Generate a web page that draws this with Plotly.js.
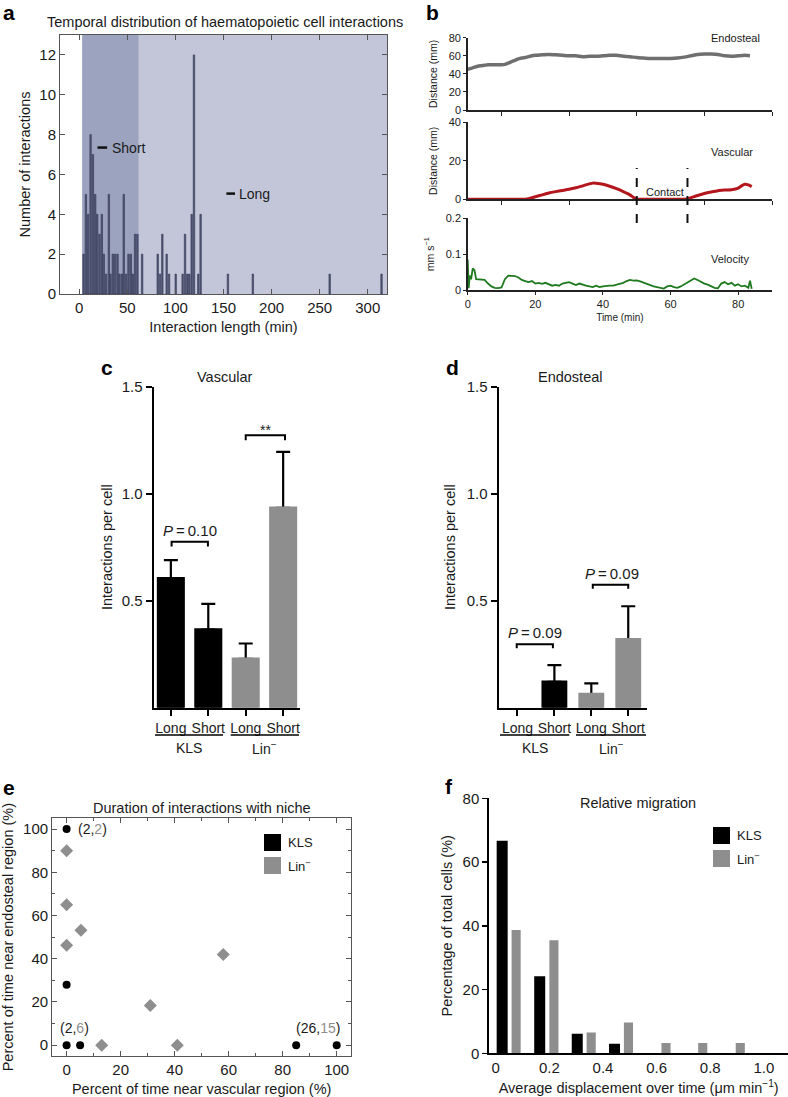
<!DOCTYPE html>
<html><head><meta charset="utf-8">
<script src="https://cdn.plot.ly/plotly-3.0.1.min.js"></script>
<style>html,body{margin:0;padding:0;background:#fff}#chart{width:788px;height:1097px}</style>
</head><body><div id="chart"></div>
<script>
// ---------------- DATA ----------------
// a: histogram of interaction lengths
const aLength = [4.5, 6.9, 9.3, 11.8, 14.2, 16.6, 18.7, 21.1, 23.5, 25.6,
                 28, 30.8, 32.5, 34.9, 37.3, 39.8, 41.8, 44.3, 46.3, 48.8,
                 51.2, 53.6, 55.7, 58.1, 60.5, 65.4, 81.6, 84, 86.4, 90.9,
                 93.4, 100.3, 107.5, 110, 112.4, 114.5, 116.9, 119.3, 123.8, 126.2,
                 154.6, 180.5, 260.4, 314.3];
const aCount  = [2, 5, 4, 8, 7, 5, 4, 3, 4, 2,
                 1, 5, 1, 2, 2, 2, 1, 1, 5, 1,
                 2, 2, 1, 3, 3, 2, 2, 1, 3, 2,
                 1, 1, 1, 3, 1, 1, 4, 12, 1, 4,
                 1, 1, 1, 1];
const shortWindow = [3, 62];
const longWindow = [62, 320];

// b: time courses
const bTimeEndo = [0,1,2,3,4,5,6,7,8,9,10,11,12,13,14,15,16,17,18,19,20,22,24,26,28,30,32,34,36,38,40,42,44,46,48,50,52,54,56,58,60,62,64,66,68,70,72,74,76,78,80,82,83.5];
const bEndo     = [45,46,47.5,48.5,49,49.5,50,50,50,50,50,50.5,52,53.5,55,56.5,57.5,58,59,60,60.5,61,61.5,61,60.5,60,60,59,59.5,59.5,60,60.5,60.5,59.5,59,58,57.5,57,57,57,57,57.5,58.5,60,61.5,62,62,61.5,60,59.5,60,60.5,60];
const bTimeVasc = [0,5,10,15,17,18,19,20,22,24,26,28,30,32,34,36,37,38,40,42,44,46,48,49,50,55,60,65,66,67,68,70,72,74,76,78,80,81,82,83,84];
const bVasc     = [0,0,0,0,0,0.3,0.8,1.3,2.3,3.3,4,4.6,5.2,6,7,8,8.4,8.3,7.8,6.8,5.5,4,2.3,1,0.2,0,0,0.2,0.8,1.4,2,3,3.8,4.5,4.8,5,5.8,7,7.8,7.5,6.6];
const bTimeVel  = [0,0.3,0.6,1,1.5,2,2.5,3,
                   4,5,6,7,8,9,10,11,12,13,
                   14,15,16,17,18,19,20,21,22,23,
                   24,25,26,27,28,29,30,31,32,33,
                   34,35,36,37,38,39,40,41,42,43,
                   44,45,46,47,48,49,50,51,52,53,
                   54,55,56,57,58,59,60,61,62,63,
                   64,65,66,67,68,69,70,71,72,73,
                   74,75,76,77,78,79,80,81,82,83,
                   83.5,84];
const bVel      = [0.085,0.005,0.04,0.03,0.06,0.055,0.03,0.03,
                   0.028,0.028,0.018,0.01,0.006,0.005,0.007,0.03,0.04,0.04,
                   0.039,0.035,0.028,0.025,0.022,0.025,0.018,0.02,0.017,0.02,
                   0.015,0.012,0.014,0.012,0.018,0.02,0.022,0.018,0.014,0.018,
                   0.014,0.012,0.01,0.008,0.012,0.008,0.01,0.012,0.012,0.012,
                   0.014,0.018,0.02,0.025,0.028,0.026,0.027,0.024,0.02,0.018,
                   0.012,0.01,0.008,0.005,0.004,0.01,0.012,0.008,0.006,0.01,
                   0.016,0.02,0.026,0.032,0.028,0.022,0.018,0.015,0.01,0.006,
                   0.005,0.018,0.022,0.016,0.02,0.012,0.016,0.01,0.012,0.006,
                   0.026,0.003];
const contactTimes = [50, 65];

// c, d: interactions per cell
const barLabels = ['Long', 'Short', 'Long', 'Short'];
const groupNames = ['KLS', 'Lin<sup>−</sup>'];
const cKLS = [0.605, 0.365], cKLSErr = [0.085, 0.12];
const cLin = [0.228, 0.934], cLinErr = [0.072, 0.261];
const dKLS = [0, 0.121],     dKLSErr = [NaN, 0.078];
const dLin = [0.064, 0.32],  dLinErr = [0.05, 0.154];

// e: duration with niche
const eKLSVasc = [0, 0, 0, 5, 85, 100];
const eKLSEndo = [100, 28, 0, 0, 0, 0];
const eLinVasc = [0, 0, 0, 5.3, 58, 31, 13, 41];
const eLinEndo = [90, 65, 46.3, 53.2, 42, 18.4, 0, 0];

// f: relative migration
const fKLSX = [0.024, 0.164, 0.304, 0.443];
const fKLS  = [66.7, 24.2, 6.1, 3.0];
const fLinX = [0.076, 0.217, 0.356, 0.495, 0.635, 0.772, 0.912];
const fLin  = [38.7, 35.5, 6.5, 9.7, 3.2, 3.2, 3.2];

// ---------------- STYLE / LAYOUT ----------------
const W = 788, H = 1097;
const X = p => p / W, Y = p => 1 - p / H;
const FONT = 'Liberation Sans, Arial, Helvetica, sans-serif';
const KLS_C = '#000000', LIN_C = '#8e8e8e';
const TXT = '#1a1a1a';

// error bars carried by a transparent copy of the bars, drawn underneath the visible bars
function errTrace(xs, ys, errs, xa, ya, w) {
  return {type:'bar', x:xs, y:ys, xaxis:xa, yaxis:ya, width:w, marker:{color:'rgba(0,0,0,0)'},
    error_y:{type:'data', symmetric:false, array:errs, arrayminus:errs.map(e => isNaN(e) ? NaN : 0),
             color:'#000', thickness:2.2, width:7}};
}
function barTrace(xs, ys, xa, ya, w, color) {
  return {type:'bar', x:xs, y:ys, xaxis:xa, yaxis:ya, width:w,
    marker:{color:color, line:{color:color, width:ys.map(v => v > 0 ? 2.6 : 0)}}};
}

const traces = [
  // a
  {type:'bar', x:aLength, y:aCount, xaxis:'x', yaxis:'y', width:1.5,
   marker:{color:'#565c78', line:{color:'#2e3350', width:0.6}}},
  // b
  {type:'scatter', mode:'lines', x:bTimeEndo, y:bEndo, xaxis:'x2', yaxis:'y2',
   line:{color:'#6f6f6f', width:3.5, shape:'spline', smoothing:0.6}},
  {type:'scatter', mode:'lines', x:bTimeVasc, y:bVasc, xaxis:'x3', yaxis:'y3',
   line:{color:'#b3161d', width:3, shape:'spline', smoothing:0.6}},
  {type:'scatter', mode:'lines', x:bTimeVel, y:bVel, xaxis:'x4', yaxis:'y4',
   line:{color:'#1f7a1f', width:1.8}},
  // c
  errTrace([0,1], cKLS, cKLSErr, 'x5', 'y5', 0.68),
  errTrace([2,3], cLin, cLinErr, 'x5', 'y5', 0.68),
  barTrace([0,1], cKLS, 'x5', 'y5', 0.68, KLS_C),
  barTrace([2,3], cLin, 'x5', 'y5', 0.68, LIN_C),
  // d
  errTrace([0,1], dKLS, dKLSErr, 'x6', 'y6', 0.63),
  errTrace([2,3], dLin, dLinErr, 'x6', 'y6', 0.63),
  barTrace([0,1], dKLS, 'x6', 'y6', 0.63, KLS_C),
  barTrace([2,3], dLin, 'x6', 'y6', 0.63, LIN_C),
  // e
  {type:'scatter', mode:'markers', x:eLinVasc, y:eLinEndo, xaxis:'x7', yaxis:'y7',
   marker:{symbol:'diamond', size:10, color:LIN_C}},
  {type:'scatter', mode:'markers', x:eKLSVasc, y:eKLSEndo, xaxis:'x7', yaxis:'y7',
   marker:{symbol:'circle', size:8, color:KLS_C}},
  // f
  {type:'bar', x:fKLSX, y:fKLS, xaxis:'x8', yaxis:'y8', width:0.041, marker:{color:KLS_C}},
  {type:'bar', x:fLinX, y:fLin, xaxis:'x8', yaxis:'y8', width:0.034, marker:{color:LIN_C}}
];

const noGrid = {showgrid:false, zeroline:false, showline:true};

const layout = {
  width:W, height:H, margin:{l:0, r:0, t:0, b:0},
  paper_bgcolor:'#ffffff', plot_bgcolor:'#ffffff',
  showlegend:false, barmode:'overlay',
  font:{family:FONT, color:TXT, size:14},
  // a
  xaxis:Object.assign({}, noGrid, {domain:[X(60), X(387)], anchor:'y', range:[-20, 320],
    tickvals:[0,50,100,150,200,250,300], ticks:'inside', ticklen:5, mirror:'ticks',
    linecolor:'#555', linewidth:1, tickcolor:'#555', tickfont:{size:15},
    title:{text:'Interaction length (min)', font:{size:14.5}, standoff:6}}),
  yaxis:Object.assign({}, noGrid, {domain:[Y(294), Y(35)], anchor:'x', range:[0, 13],
    tickvals:[0,2,4,6,8,10,12], ticks:'inside', ticklen:5, mirror:'ticks',
    linecolor:'#555', linewidth:1, tickcolor:'#555', tickfont:{size:15},
    title:{text:'Number of interactions', font:{size:14.5}, standoff:5}}),
  // b top
  xaxis2:Object.assign({}, noGrid, {domain:[X(467.7), X(772)], anchor:'y2', range:[0, 90],
    tickvals:[10,30,50,70,90], showticklabels:false, ticks:'outside', ticklen:4,
    linecolor:'#222', linewidth:1.5, tickcolor:'#222'}),
  yaxis2:Object.assign({}, noGrid, {domain:[Y(110), Y(37.7)], anchor:'x2', range:[0, 80],
    tickvals:[0,20,40,60,80], ticks:'outside', ticklen:3, linecolor:'#222', linewidth:1.5, tickcolor:'#222',
    tickfont:{size:11}, title:{text:'Distance (mm)', font:{size:10.5}, standoff:9}}),
  // b middle
  xaxis3:Object.assign({}, noGrid, {domain:[X(467.7), X(772)], anchor:'y3', range:[0, 90],
    tickvals:[10,30,50,70,90], showticklabels:false, ticks:'outside', ticklen:4,
    linecolor:'#222', linewidth:1.5, tickcolor:'#222'}),
  yaxis3:Object.assign({}, noGrid, {domain:[Y(199.3), Y(122.3)], anchor:'x3', range:[0, 40],
    tickvals:[0,20,40], ticks:'outside', ticklen:3, linecolor:'#222', linewidth:1.5, tickcolor:'#222',
    tickfont:{size:11}, title:{text:'Distance (mm)', font:{size:10.5}, standoff:9}}),
  // b bottom
  xaxis4:Object.assign({}, noGrid, {domain:[X(467.7), X(772)], anchor:'y4', range:[0, 90],
    tickvals:[0,20,40,60,80], ticks:'outside', ticklen:3,
    linecolor:'#222', linewidth:1.5, tickcolor:'#222', tickfont:{size:11},
    title:{text:'Time (min)', font:{size:10}, standoff:5}}),
  yaxis4:Object.assign({}, noGrid, {domain:[Y(290), Y(218.3)], anchor:'x4', range:[0, 0.2],
    tickvals:[0,0.1,0.2], ticktext:['0','0.1','0.2'], ticks:'outside', ticklen:3, linecolor:'#222', linewidth:1.5, tickcolor:'#222',
    tickfont:{size:11}, title:{text:'mm s<sup>−1</sup>', font:{size:10.5}, standoff:9}}),
  // c
  xaxis5:Object.assign({}, noGrid, {domain:[X(154), X(300)], anchor:'y5', range:[-0.45, 3.45],
    tickvals:[0,1,2,3], ticktext:barLabels, ticks:'outside', ticklen:6, tickwidth:2,
    linecolor:'#000', linewidth:2.5, tickcolor:'#000', tickfont:{size:14}}),
  yaxis5:Object.assign({}, noGrid, {domain:[Y(707.7), Y(386.7)], anchor:'x5', range:[0, 1.5],
    tickvals:[0.5,1,1.5], ticktext:['0.5','1.0','1.5'], ticks:'outside', ticklen:6, tickwidth:2,
    linecolor:'#000', linewidth:2.5, tickcolor:'#000', tickfont:{size:15},
    title:{text:'Interactions per cell', font:{size:14.5}, standoff:6}}),
  // d
  xaxis6:Object.assign({}, noGrid, {domain:[X(499), X(646.7)], anchor:'y6', range:[-0.5, 3.5],
    tickvals:[0,1,2,3], ticktext:barLabels, ticks:'outside', ticklen:6, tickwidth:2,
    linecolor:'#000', linewidth:2.5, tickcolor:'#000', tickfont:{size:14}}),
  yaxis6:Object.assign({}, noGrid, {domain:[Y(707.7), Y(386.7)], anchor:'x6', range:[0, 1.5],
    tickvals:[0.5,1,1.5], ticktext:['0.5','1.0','1.5'], ticks:'outside', ticklen:6, tickwidth:2,
    linecolor:'#000', linewidth:2.5, tickcolor:'#000', tickfont:{size:15},
    title:{text:'Interactions per cell', font:{size:14.5}, standoff:8}}),
  // e
  xaxis7:Object.assign({}, noGrid, {domain:[X(52.3), X(351)], anchor:'y7', range:[-5.3, 105.3],
    tickvals:[0,20,40,60,80,100], ticks:'inside', ticklen:5, mirror:'ticks',
    minor:{tickvals:[10,30,50,70,90], ticks:'inside', ticklen:3, tickcolor:'#555'},
    linecolor:'#555', linewidth:1.2, tickcolor:'#555', tickfont:{size:15},
    title:{text:'Percent of time near vascular region (%)', font:{size:14.5}, standoff:6}}),
  yaxis7:Object.assign({}, noGrid, {domain:[Y(1056), Y(818.3)], anchor:'x7', range:[-5, 105],
    tickvals:[0,20,40,60,80,100], ticks:'inside', ticklen:5, mirror:'ticks',
    minor:{tickvals:[10,30,50,70,90], ticks:'inside', ticklen:3, tickcolor:'#555'},
    linecolor:'#555', linewidth:1.2, tickcolor:'#555', tickfont:{size:15},
    title:{text:'Percent of time near endosteal region (%)', font:{size:14.5}, standoff:6}}),
  // f
  xaxis8:Object.assign({}, noGrid, {domain:[X(489.3), 1], anchor:'y8', range:[-0.024, 1.09],
    tickvals:[0,0.2,0.4,0.6,0.8,1.0], ticktext:['0','0.2','0.4','0.6','0.8','1.0'], ticks:'',
    linecolor:'#000', linewidth:2, tickfont:{size:15},
    title:{text:'Average displacement over time (μm min<sup>−1</sup>)', font:{size:14.5}, standoff:8}}),
  yaxis8:Object.assign({}, noGrid, {domain:[Y(1053.3), Y(798.3)], anchor:'x8', range:[0, 80],
    tickvals:[0,20,40,60,80], ticks:'outside', ticklen:5, tickwidth:1.5,
    linecolor:'#000', linewidth:2, tickcolor:'#000', tickfont:{size:15},
    title:{text:'Percentage of total cells (%)', font:{size:14.5}, standoff:7}}),
  shapes:[], annotations:[]
};

const S = layout.shapes, A = layout.annotations;
function ann(xref, yref, x, y, text, size, xanchor, extra) {
  A.push(Object.assign({xref:xref, yref:yref, x:x, y:y, text:text, showarrow:false,
    xanchor:xanchor || 'center', yanchor:'middle', font:{size:size}}, extra || {}));
}
function pann(px, py, text, size, xanchor, extra) { ann('paper', 'paper', X(px), Y(py), text, size, xanchor, extra); }

// a: shaded windows
S.push({type:'rect', xref:'x', yref:'y domain', x0:shortWindow[0], x1:shortWindow[1], y0:0, y1:1,
        fillcolor:'#9ca3be', line:{width:0}, layer:'below'});
S.push({type:'rect', xref:'x', yref:'y domain', x0:longWindow[0], x1:longWindow[1], y0:0, y1:1,
        fillcolor:'#c3c6d9', line:{width:0}, layer:'below'});
S.push({type:'line', xref:'x', yref:'y', x0:19, x1:29, y0:7.35, y1:7.35, line:{color:'#111', width:2.5}});
S.push({type:'line', xref:'x', yref:'y', x0:153, x1:162, y0:5.04, y1:5.04, line:{color:'#111', width:2.5}});
ann('x', 'y', 32, 7.35, 'Short', 14, 'left');
ann('x', 'y', 164.5, 5.04, 'Long', 14, 'left');

// b: contact markers
contactTimes.forEach(t => S.push({type:'line', xref:'x3', yref:'paper', x0:t, x1:t, y0:Y(223), y1:Y(168),
  line:{color:'#111', width:2, dash:'dash'}}));
pann(709, 38, 'Endosteal', 11, 'left');
pann(709, 152, 'Vascular', 11, 'left');
pann(709, 259, 'Velocity', 11, 'left');
pann(644, 192, 'Contact', 11, 'left');

// brackets
function bracket(xa, ya, x0, x1, yTop, leg) {
  S.push({type:'path', xref:xa, yref:ya, path:`M ${x0},${yTop-leg} L ${x0},${yTop} L ${x1},${yTop} L ${x1},${yTop-leg}`,
          line:{color:'#000', width:2}});
}
bracket('x5','y5', 0.02, 0.99, 0.776, 0.023);
bracket('x5','y5', 2.0, 3.05, 1.273, 0.023);
ann('x5', 'y5', 0.5, 0.83, '<i>P</i>\u2009=\u20090.10', 15);
ann('x5', 'y5', 2.52, 1.30, '**', 14);
bracket('x6','y6', -0.02, 0.96, 0.297, 0.019);
bracket('x6','y6', 2.04, 3.0, 0.575, 0.019);
ann('x6', 'y6', 0.48, 0.351, '<i>P</i>\u2009=\u20090.09', 15);
ann('x6', 'y6', 2.56, 0.629, '<i>P</i>\u2009=\u20090.09', 15);

// group underlines c, d
[[155,223,0],[230.7,299,1],[500,569.3,0],[576,646,1]].forEach(g => {
  S.push({type:'line', xref:'paper', yref:'paper', x0:X(g[0]), x1:X(g[1]), y0:Y(735), y1:Y(735), line:{color:'#000', width:1.5}});
  pann((g[0]+g[1])/2, 748, groupNames[g[2]], 14, 'center');
});

// panel titles
pann(225, 22, 'Temporal distribution of haematopoietic cell interactions', 14.5);
pann(225, 377, 'Vascular', 14.5);
pann(570, 377, 'Endosteal', 14.5);
pann(202, 808, 'Duration of interactions with niche', 14.5);
pann(638, 803, 'Relative migration', 14.5);

// e annotations
ann('x7', 'y7', 3.3, 100, '(2,<span style="color:#8e8e8e">2</span>)', 14, 'left');
ann('x7', 'y7', 3, 8, '(2,<span style="color:#8e8e8e">6</span>)', 14, 'center');
ann('x7', 'y7', 93, 8, '(26,<span style="color:#8e8e8e">15</span>)', 14, 'center');

// legends e, f
function legendBox(x0, yTop, label, color) {
  S.push({type:'rect', xref:'paper', yref:'paper', x0:X(x0), x1:X(x0+17), y0:Y(yTop+17), y1:Y(yTop), fillcolor:color, line:{width:0}});
  pann(x0+22, yTop+8.5, label, 13, 'left');
}
legendBox(264, 834, 'KLS', KLS_C);
legendBox(264, 857, 'Lin<sup>−</sup>', LIN_C);
legendBox(713, 827, 'KLS', KLS_C);
legendBox(713, 850, 'Lin<sup>−</sup>', LIN_C);

// panel letters
[['a',9,13],['b',432,13],['c',107,368],['d',452,368],['e',9,787],['f',449,786]].forEach(l =>
  pann(l[1], l[2], '<b>'+l[0]+'</b>', 21, 'center', {font:{size:21, color:'#000'}}));

Plotly.newPlot('chart', traces, layout, {staticPlot:true, displayModeBar:false});
</script></body></html>
